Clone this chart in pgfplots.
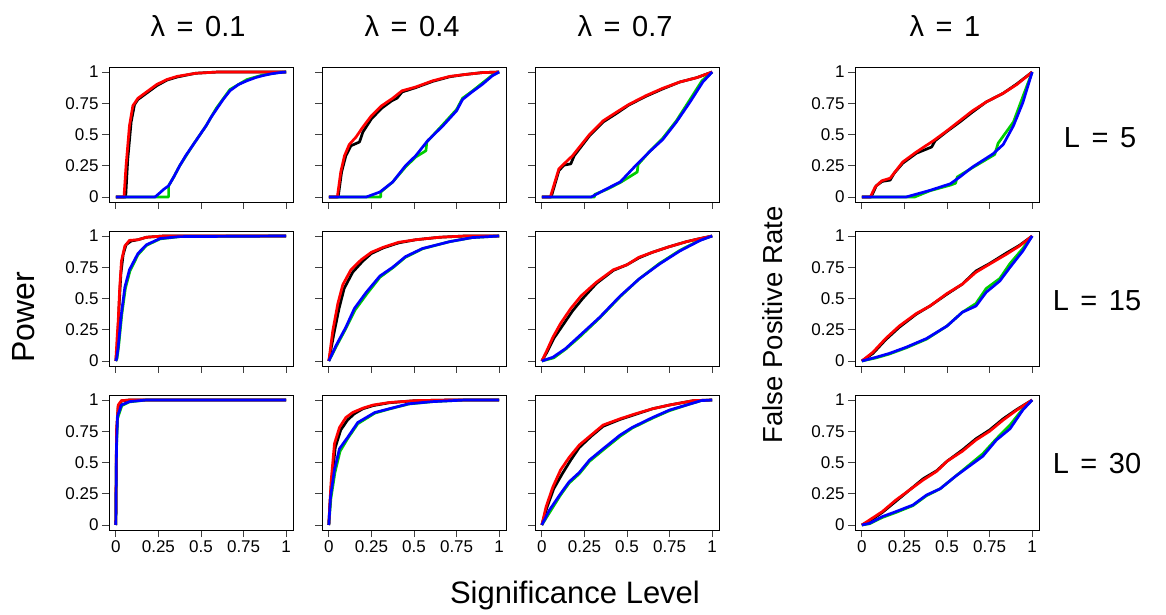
\documentclass[border=0pt]{standalone}
\usepackage{fontspec}
\setmainfont{Liberation Sans}
\usepackage{pgfplots}
\pgfplotsset{compat=1.18}

\definecolor{rgreen}{RGB}{0,205,0}

\pgfplotsset{
  panel/.style={
    anchor=south west, scale only axis, width=184pt, height=135pt,
    xmin=-0.04, xmax=1.04, ymin=-0.04, ymax=1.04,
    axis line style={line width=0.9pt},
    xtick={0,0.25,0.5,0.75,1}, ytick={0,0.25,0.5,0.75,1},
    xticklabels={0,0.25,0.5,0.75,1}, yticklabels={0,0.25,0.5,0.75,1},
    tick align=outside, major tick length=7pt,
    tick style={line width=0.8pt, black!75},
    xtick pos=bottom, ytick pos=left,
    /pgf/number format/assume math mode=true,
    every tick label/.append style={font=\fontsize{17}{17}\selectfont},
    every axis plot/.append style={line width=2.7pt, line join=round},
  },
  nox/.style={xticklabels={}},
}
\newcommand{\eqs}{\hspace{0.4em}=\hspace{0.4em}}

\begin{document}
\begin{tikzpicture}
\path[use as bounding box] (0,0) rectangle (1166pt,615pt);

% row 1, L = 5
\begin{axis}[panel, nox, at={(109pt,413pt)}]
\addplot[black] coordinates {(0,0)(0.058,0)(0.07,0.3)(0.09,0.6)(0.11,0.74)(0.13,0.78)(0.18,0.83)(0.24,0.89)(0.3,0.935)(0.36,0.96)(0.47,0.99)(0.6,1)(1,1)};
\addplot[rgreen] coordinates {(0,0)(0.31,0)(0.31,0.09)(0.34,0.16)(0.375,0.25)(0.45,0.41)(0.53,0.57)(0.59,0.71)(0.67,0.86)(0.77,0.94)(0.86,0.975)(0.96,0.997)(1,1)};
\addplot[red] coordinates {(0,0)(0.048,0)(0.06,0.25)(0.08,0.57)(0.1,0.73)(0.13,0.79)(0.18,0.84)(0.24,0.9)(0.3,0.94)(0.36,0.965)(0.47,0.99)(0.6,1)(1,1)};
\addplot[blue] coordinates {(0,0)(0.23,0)(0.26,0.035)(0.28,0.06)(0.31,0.09)(0.34,0.16)(0.375,0.25)(0.41,0.33)(0.45,0.41)(0.49,0.49)(0.53,0.57)(0.56,0.64)(0.59,0.7)(0.63,0.78)(0.67,0.85)(0.72,0.9)(0.77,0.93)(0.82,0.955)(0.86,0.97)(0.91,0.985)(0.96,0.995)(1,1)};
\end{axis}

\begin{axis}[panel, nox, yticklabels={}, at={(322pt,413pt)}]
\addplot[black] coordinates {(0,0)(0.055,0)(0.075,0.2)(0.1,0.33)(0.13,0.41)(0.18,0.44)(0.2,0.52)(0.25,0.625)(0.31,0.71)(0.37,0.77)(0.4,0.79)(0.43,0.84)(0.51,0.875)(0.61,0.925)(0.71,0.962)(0.8,0.98)(0.9,0.995)(1,1)};
\addplot[rgreen] coordinates {(0,0)(0.305,0)(0.305,0.04)(0.375,0.12)(0.45,0.24)(0.51,0.32)(0.57,0.37)(0.575,0.44)(0.67,0.58)(0.75,0.7)(0.785,0.79)(0.84,0.845)(0.9,0.91)(0.96,0.975)(1,1)};
\addplot[red] coordinates {(0,0)(0.05,0)(0.07,0.2)(0.092,0.33)(0.12,0.42)(0.16,0.48)(0.2,0.56)(0.25,0.65)(0.31,0.73)(0.375,0.79)(0.43,0.85)(0.51,0.88)(0.61,0.93)(0.71,0.965)(0.8,0.98)(0.9,0.995)(1,1)};
\addplot[blue] coordinates {(0,0)(0.22,0)(0.26,0.02)(0.3,0.04)(0.375,0.12)(0.45,0.25)(0.51,0.33)(0.58,0.45)(0.67,0.57)(0.75,0.69)(0.785,0.78)(0.84,0.84)(0.9,0.9)(0.96,0.97)(1,1)};
\end{axis}

\begin{axis}[panel, nox, yticklabels={}, at={(535pt,413pt)}]
\addplot[black] coordinates {(0,0)(0.055,0)(0.1,0.21)(0.13,0.255)(0.17,0.265)(0.19,0.33)(0.28,0.49)(0.36,0.6)(0.44,0.67)(0.51,0.735)(0.61,0.805)(0.71,0.865)(0.81,0.92)(0.91,0.955)(1,1)};
\addplot[rgreen] coordinates {(0,0)(0.31,0)(0.31,0.02)(0.38,0.06)(0.46,0.115)(0.56,0.2)(0.565,0.26)(0.63,0.36)(0.71,0.47)(0.79,0.61)(0.87,0.78)(0.94,0.93)(1,1)};
\addplot[red] coordinates {(0,0)(0.05,0)(0.1,0.225)(0.13,0.265)(0.18,0.33)(0.28,0.5)(0.36,0.61)(0.44,0.68)(0.51,0.74)(0.61,0.81)(0.71,0.87)(0.81,0.92)(0.91,0.955)(1,1)};
\addplot[blue] coordinates {(0,0)(0.29,0)(0.38,0.065)(0.46,0.12)(0.55,0.25)(0.63,0.36)(0.71,0.46)(0.79,0.6)(0.87,0.76)(0.945,0.92)(1,1)};
\end{axis}

\begin{axis}[panel, nox, at={(855pt,413pt)}]
\addplot[black] coordinates {(0,0)(0.055,0)(0.085,0.09)(0.12,0.125)(0.166,0.135)(0.19,0.19)(0.24,0.27)(0.32,0.35)(0.41,0.4)(0.43,0.45)(0.5,0.525)(0.575,0.6)(0.65,0.68)(0.73,0.76)(0.83,0.83)(0.91,0.905)(1,1)};
\addplot[rgreen] coordinates {(0,0)(0.31,0)(0.4,0.05)(0.52,0.095)(0.55,0.11)(0.56,0.16)(0.65,0.235)(0.78,0.34)(0.8,0.43)(0.89,0.6)(0.95,0.82)(1,1)};
\addplot[red] coordinates {(0,0)(0.05,0)(0.078,0.08)(0.117,0.13)(0.166,0.15)(0.24,0.28)(0.32,0.36)(0.42,0.45)(0.5,0.53)(0.575,0.61)(0.65,0.69)(0.73,0.76)(0.83,0.83)(0.91,0.9)(1,1)};
\addplot[blue] coordinates {(0,0)(0.26,0)(0.4,0.053)(0.52,0.106)(0.575,0.16)(0.65,0.24)(0.77,0.345)(0.83,0.42)(0.89,0.57)(0.945,0.755)(1,1)};
\end{axis}

% row 2, L = 15
\begin{axis}[panel, nox, at={(109pt,249pt)}]
\addplot[black] coordinates {(0,0)(0.01,0.15)(0.02,0.46)(0.03,0.7)(0.043,0.85)(0.06,0.93)(0.09,0.96)(0.13,0.97)(0.18,0.99)(0.28,1)(1,1)};
\addplot[rgreen] coordinates {(0,0)(0.007,0.02)(0.016,0.11)(0.035,0.37)(0.056,0.58)(0.083,0.72)(0.13,0.85)(0.18,0.925)(0.26,0.977)(0.375,0.995)(1,1)};
\addplot[red] coordinates {(0,0)(0.008,0.2)(0.014,0.32)(0.023,0.59)(0.033,0.8)(0.053,0.92)(0.08,0.965)(0.13,0.97)(0.18,0.99)(0.28,1)(1,1)};
\addplot[blue] coordinates {(0,0)(0.005,0.02)(0.014,0.11)(0.025,0.27)(0.033,0.38)(0.053,0.59)(0.08,0.73)(0.13,0.86)(0.18,0.93)(0.26,0.98)(0.375,0.995)(1,1)};
\end{axis}

\begin{axis}[panel, nox, yticklabels={}, at={(322pt,249pt)}]
\addplot[black] coordinates {(0,0)(0.03,0.22)(0.06,0.42)(0.09,0.58)(0.14,0.71)(0.2,0.8)(0.25,0.86)(0.32,0.905)(0.41,0.945)(0.51,0.97)(0.65,0.99)(0.8,1)(1,1)};
\addplot[rgreen] coordinates {(0,0)(0.045,0.12)(0.1,0.26)(0.155,0.41)(0.225,0.54)(0.3,0.67)(0.375,0.745)(0.45,0.83)(0.55,0.898)(0.71,0.955)(0.84,0.987)(1,1)};
\addplot[red] coordinates {(0,0)(0.023,0.24)(0.053,0.46)(0.082,0.61)(0.13,0.73)(0.19,0.81)(0.25,0.87)(0.32,0.91)(0.41,0.95)(0.51,0.97)(0.65,0.99)(0.8,1)(1,1)};
\addplot[blue] coordinates {(0,0)(0.043,0.125)(0.1,0.27)(0.15,0.42)(0.22,0.55)(0.3,0.68)(0.375,0.75)(0.45,0.835)(0.55,0.9)(0.71,0.955)(0.84,0.987)(1,1)};
\end{axis}

\begin{axis}[panel, nox, yticklabels={}, at={(535pt,249pt)}]
\addplot[black] coordinates {(0,0)(0.03,0.07)(0.07,0.18)(0.12,0.28)(0.18,0.4)(0.24,0.5)(0.32,0.62)(0.42,0.725)(0.5,0.77)(0.57,0.825)(0.65,0.87)(0.75,0.915)(0.85,0.955)(0.93,0.98)(1,1)};
\addplot[rgreen] coordinates {(0,0)(0.07,0.025)(0.14,0.095)(0.22,0.19)(0.34,0.345)(0.46,0.515)(0.57,0.655)(0.69,0.78)(0.81,0.885)(0.93,0.968)(1,1)};
\addplot[red] coordinates {(0,0)(0.025,0.07)(0.065,0.19)(0.11,0.3)(0.17,0.42)(0.23,0.52)(0.32,0.63)(0.42,0.73)(0.5,0.77)(0.57,0.83)(0.65,0.87)(0.75,0.915)(0.85,0.955)(0.93,0.98)(1,1)};
\addplot[blue] coordinates {(0,0)(0.065,0.03)(0.14,0.1)(0.22,0.2)(0.34,0.35)(0.46,0.52)(0.57,0.655)(0.69,0.775)(0.81,0.88)(0.93,0.965)(1,1)};
\end{axis}

\begin{axis}[panel, nox, at={(855pt,249pt)}]
\addplot[black] coordinates {(0,0)(0.065,0.06)(0.14,0.17)(0.22,0.27)(0.32,0.375)(0.4,0.44)(0.5,0.535)(0.59,0.615)(0.67,0.72)(0.75,0.78)(0.85,0.865)(0.925,0.925)(1,1)};
\addplot[rgreen] coordinates {(0,0)(0.084,0.025)(0.16,0.055)(0.26,0.105)(0.38,0.175)(0.5,0.28)(0.59,0.39)(0.67,0.46)(0.73,0.58)(0.81,0.66)(0.87,0.78)(0.945,0.9)(1,1)};
\addplot[red] coordinates {(0,0)(0.065,0.07)(0.14,0.18)(0.22,0.28)(0.32,0.38)(0.4,0.44)(0.5,0.54)(0.59,0.615)(0.67,0.71)(0.75,0.775)(0.85,0.855)(0.925,0.92)(1,1)};
\addplot[blue] coordinates {(0,0)(0.084,0.03)(0.16,0.06)(0.26,0.11)(0.38,0.18)(0.5,0.28)(0.59,0.39)(0.67,0.44)(0.73,0.55)(0.81,0.64)(0.87,0.75)(0.945,0.88)(1,1)};
\end{axis}

% row 3, L = 30
\begin{axis}[panel, at={(109pt,85pt)}]
\addplot[black] coordinates {(0,0)(0.004,0.72)(0.014,0.95)(0.035,0.993)(0.08,1)(1,1)};
\addplot[rgreen] coordinates {(0,0)(0.004,0.6)(0.01,0.85)(0.035,0.955)(0.08,0.985)(0.18,1)(1,1)};
\addplot[red] coordinates {(0,0)(0.004,0.76)(0.014,0.96)(0.033,0.995)(0.08,1)(1,1)};
\addplot[blue] coordinates {(0,0)(0.004,0.63)(0.01,0.87)(0.033,0.96)(0.08,0.987)(0.18,1)(1,1)};
\end{axis}

\begin{axis}[panel, yticklabels={}, at={(322pt,85pt)}]
\addplot[black] coordinates {(0,0)(0.005,0.13)(0.016,0.34)(0.038,0.62)(0.07,0.76)(0.11,0.84)(0.15,0.89)(0.2,0.93)(0.26,0.955)(0.355,0.978)(0.51,0.995)(0.71,1)(1,1)};
\addplot[rgreen] coordinates {(0,0)(0.012,0.21)(0.036,0.42)(0.066,0.59)(0.11,0.69)(0.17,0.81)(0.27,0.895)(0.355,0.928)(0.47,0.968)(0.61,0.987)(0.8,1)(1,1)};
\addplot[red] coordinates {(0,0)(0.005,0.15)(0.014,0.36)(0.033,0.65)(0.0625,0.78)(0.1,0.86)(0.14,0.9)(0.2,0.935)(0.26,0.96)(0.355,0.98)(0.51,0.995)(0.71,1)(1,1)};
\addplot[blue] coordinates {(0,0)(0.01,0.225)(0.033,0.44)(0.0625,0.61)(0.11,0.7)(0.17,0.82)(0.27,0.9)(0.355,0.93)(0.47,0.97)(0.61,0.987)(0.8,1)(1,1)};
\end{axis}

\begin{axis}[panel, yticklabels={}, at={(535pt,85pt)}]
\addplot[black] coordinates {(0,0)(0.03,0.14)(0.07,0.29)(0.12,0.41)(0.17,0.52)(0.22,0.62)(0.29,0.71)(0.36,0.79)(0.46,0.845)(0.55,0.885)(0.65,0.93)(0.75,0.96)(0.89,0.995)(1,1)};
\addplot[rgreen] coordinates {(0,0)(0.05,0.11)(0.11,0.24)(0.16,0.335)(0.22,0.41)(0.28,0.51)(0.36,0.6)(0.46,0.71)(0.53,0.775)(0.65,0.855)(0.75,0.915)(0.85,0.96)(0.935,0.995)(1,1)};
\addplot[red] coordinates {(0,0)(0.025,0.146)(0.065,0.305)(0.11,0.44)(0.16,0.54)(0.22,0.64)(0.29,0.72)(0.36,0.8)(0.46,0.85)(0.55,0.89)(0.65,0.93)(0.75,0.96)(0.89,0.995)(1,1)};
\addplot[blue] coordinates {(0,0)(0.045,0.12)(0.11,0.25)(0.16,0.345)(0.22,0.42)(0.28,0.52)(0.36,0.61)(0.46,0.72)(0.53,0.78)(0.65,0.86)(0.75,0.92)(0.85,0.96)(0.935,0.995)(1,1)};
\end{axis}

\begin{axis}[panel, at={(855pt,85pt)}]
\addplot[black] coordinates {(0,0)(0.045,0.03)(0.12,0.1)(0.2,0.19)(0.28,0.28)(0.36,0.37)(0.44,0.435)(0.5,0.51)(0.59,0.6)(0.67,0.69)(0.75,0.76)(0.83,0.85)(0.91,0.925)(1,1)};
\addplot[rgreen] coordinates {(0,0)(0.045,0.01)(0.12,0.06)(0.2,0.1)(0.3,0.155)(0.38,0.235)(0.46,0.29)(0.55,0.39)(0.63,0.48)(0.71,0.57)(0.79,0.69)(0.87,0.8)(0.945,0.93)(1,1)};
\addplot[red] coordinates {(0,0)(0.045,0.04)(0.12,0.107)(0.2,0.2)(0.28,0.28)(0.36,0.36)(0.44,0.43)(0.5,0.51)(0.59,0.59)(0.67,0.68)(0.75,0.75)(0.83,0.84)(0.91,0.92)(1,1)};
\addplot[blue] coordinates {(0,0)(0.045,0.013)(0.12,0.067)(0.2,0.107)(0.3,0.16)(0.38,0.24)(0.46,0.29)(0.55,0.39)(0.63,0.47)(0.71,0.55)(0.79,0.68)(0.87,0.77)(0.945,0.92)(1,1)};
\end{axis}

% titles and labels
\begin{scope}[every node/.style={inner sep=0pt}]
\begin{scope}[every node/.append style={font=\fontsize{29}{29}\selectfont}]
\node[anchor=base] at (198pt,578pt) {λ\eqs0.1};
\node[anchor=base] at (412pt,578pt) {λ\eqs0.4};
\node[anchor=base] at (625pt,578pt) {λ\eqs0.7};
\node[anchor=base] at (945pt,578pt) {λ\eqs1};
\node[anchor=base] at (1100pt,467pt) {L\eqs5};
\node[anchor=base] at (1097pt,304pt) {L\eqs15};
\node[anchor=base] at (1097pt,141pt) {L\eqs30};
\end{scope}
\node[anchor=base, rotate=90, font=\fontsize{32}{32}\selectfont] at (35pt,298pt) {Power};
\node[anchor=base, rotate=90, font=\fontsize{27.5}{27.5}\selectfont] at (782pt,290pt) {False Positive Rate};
\node[anchor=base, font=\fontsize{31}{31}\selectfont] at (575pt,11pt) {Significance Level};
\end{scope}
\end{tikzpicture}
\end{document}
